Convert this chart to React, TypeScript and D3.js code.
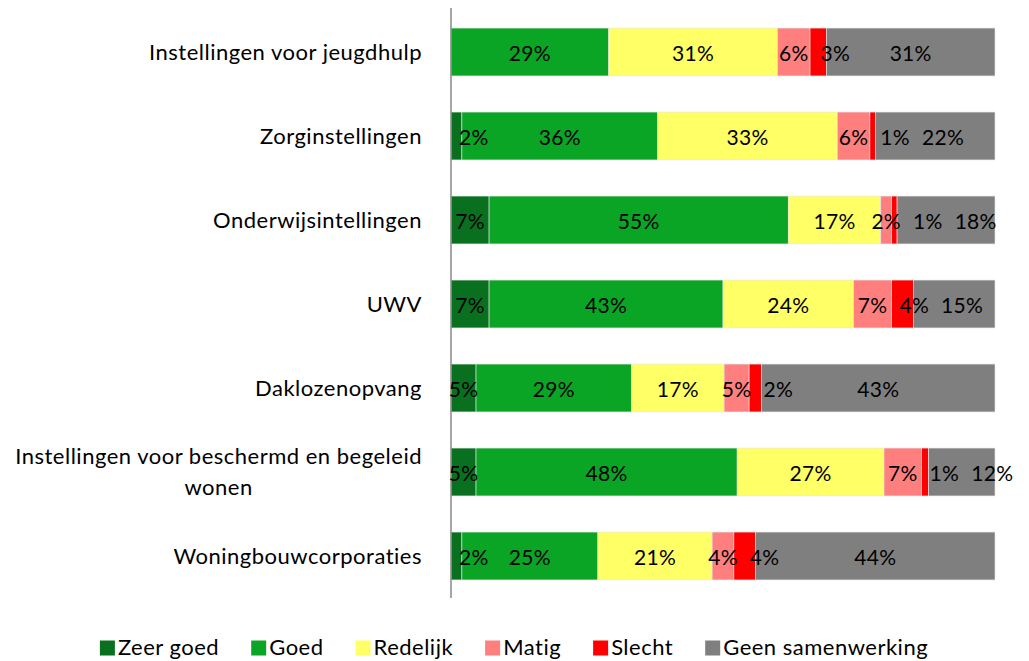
import React, { useEffect, useRef } from "react";
import * as d3 from "d3";

const categories = [
  "Instellingen voor jeugdhulp",
  "Zorginstellingen",
  "Onderwijsintellingen",
  "UWV",
  "Daklozenopvang",
  "Instellingen voor beschermd en begeleid wonen",
  "Woningbouwcorporaties",
];

const seriesNames = ["Zeer goed", "Goed", "Redelijk", "Matig", "Slecht", "Geen samenwerking"];
const seriesColors = ["#08701f", "#0ba526", "#ffff66", "#ff7f7f", "#ff0000", "#7f7f7f"];

// percentages per category, same order as categories
const zeerGoed = [0, 2, 7, 7, 4.6, 4.6, 2];
const goed = [29, 36, 55, 43, 28.6, 48, 25];
const redelijk = [31, 33, 17, 24, 17, 27, 21];
const matig = [6, 6, 2, 7, 4.6, 6.9, 4];
const slecht = [3, 1, 1, 4, 2.3, 1.3, 4];
const geen = [31, 22, 18, 15, 42.9, 12.2, 44];

const FONT = "Lato, 'Open Sans', sans-serif";

export default function App() {
  const ref = useRef<SVGSVGElement>(null);

  useEffect(() => {
    const svg = d3.select(ref.current);
    svg.selectAll("*").remove();

    const plot = { left: 451, right: 995, top: 10, bottom: 598 };

    const rows = categories.map((c, i) => ({
      cat: c,
      "Zeer goed": zeerGoed[i],
      "Goed": goed[i],
      "Redelijk": redelijk[i],
      "Matig": matig[i],
      "Slecht": slecht[i],
      "Geen samenwerking": geen[i],
    }));

    const stacked = d3.stack<any>().keys(seriesNames)(rows);

    const x = d3.scaleLinear().domain([0, 100]).range([plot.left, plot.right]);
    const y = d3.scaleBand<string>()
      .domain(categories)
      .range([plot.top, plot.bottom])
      .paddingInner(0.43)
      .paddingOuter(0.215);
    const color = d3.scaleOrdinal<string, string>().domain(seriesNames).range(seriesColors);

    const g = svg.append("g");

    // bars
    g.selectAll("g.series")
      .data(stacked)
      .join("g")
      .attr("class", "series")
      .attr("fill", d => color(d.key))
      .selectAll("rect")
      .data(d => d)
      .join("rect")
      .attr("x", d => x(d[0]))
      .attr("width", d => x(d[1]) - x(d[0]))
      .attr("y", d => y(d.data.cat)!)
      .attr("height", y.bandwidth())
      .attr("stroke", "#e6e6e6")
      .attr("stroke-width", 0.6);

    // axis line
    g.append("line")
      .attr("x1", plot.left).attr("x2", plot.left)
      .attr("y1", plot.top - 2).attr("y2", plot.bottom)
      .attr("stroke", "#898989")
      .attr("stroke-width", 1.5);

    // data labels: centered, kept off the axis, and no overlaps
    const labels = g.append("g")
      .attr("font-family", FONT).attr("font-size", 21)
      .attr("letter-spacing", 0.3).attr("fill", "#000");
    categories.forEach((c, i) => {
      let prevRight = -Infinity;
      stacked.forEach(s => {
        const d = s[i];
        const v = d[1] - d[0];
        if (v <= 0) return;
        const t = labels.append("text")
          .attr("y", y(c)! + y.bandwidth() / 2 + 1)
          .attr("dy", "0.36em")
          .text(Math.round(v) + "%");
        const w = (t.node() as SVGTextElement).getComputedTextLength();
        let left = (x(d[0]) + x(d[1])) / 2 - w / 2;
        if (left < plot.left - 5) left = x(d[0]) + 8;
        if (left < prevRight + 12) left = prevRight + 12;
        t.attr("x", left);
        prevRight = left + w;
      });
    });

    // category labels with wrapping
    const catG = g.append("g")
      .attr("font-family", FONT).attr("font-size", 22)
      .attr("letter-spacing", 0.5).attr("fill", "#000");
    const maxW = 420;
    const measure = (s: string) => {
      const p = catG.append("text").text(s);
      const w = (p.node() as SVGTextElement).getComputedTextLength();
      p.remove();
      return w;
    };
    categories.forEach(c => {
      const words = c.split(" ");
      const lines: string[] = [];
      let line = "";
      words.forEach(wd => {
        const test = line ? line + " " + wd : wd;
        if (measure(test) > maxW && line) {
          lines.push(line);
          line = wd;
        } else line = test;
      });
      lines.push(line);
      const cy = y(c)! + y.bandwidth() / 2;
      const lh = 31;
      if (lines.length === 1) {
        catG.append("text")
          .attr("x", plot.left - 29).attr("y", cy).attr("dy", "0.36em")
          .attr("text-anchor", "end").text(lines[0]);
      } else {
        const mid = plot.left - 29 - d3.max(lines.map(measure))! / 2;
        lines.forEach((l, k) => {
          catG.append("text")
            .attr("x", mid)
            .attr("y", cy + (k - (lines.length - 1) / 2) * lh)
            .attr("dy", "0.36em")
            .attr("text-anchor", "middle")
            .text(l);
        });
      }
    });

    // legend
    const leg = svg.append("g")
      .attr("font-family", FONT).attr("font-size", 22)
      .attr("letter-spacing", 0.5);
    const items = seriesNames.map(k => {
      const p = leg.append("text").text(k);
      const w = (p.node() as SVGTextElement).getComputedTextLength();
      p.remove();
      return { w, key: k };
    });
    const sw = 15, gapIn = 3, gapOut = 32;
    const total = d3.sum(items, d => sw + gapIn + d.w) + gapOut * (items.length - 1);
    let lx = 514 - total / 2;
    const ly = 647;
    items.forEach(it => {
      leg.append("rect")
        .attr("x", lx).attr("y", ly - sw / 2 + 1)
        .attr("width", sw).attr("height", sw)
        .attr("fill", color(it.key));
      leg.append("text")
        .attr("x", lx + sw + gapIn).attr("y", ly).attr("dy", "0.36em")
        .text(it.key);
      lx += sw + gapIn + it.w + gapOut;
    });
  }, []);

  return (
    <svg
      ref={ref}
      width={1029}
      height={661}
      style={{ display: "block", position: "absolute", left: 0, top: 0, background: "#fff" }}
    />
  );
}
